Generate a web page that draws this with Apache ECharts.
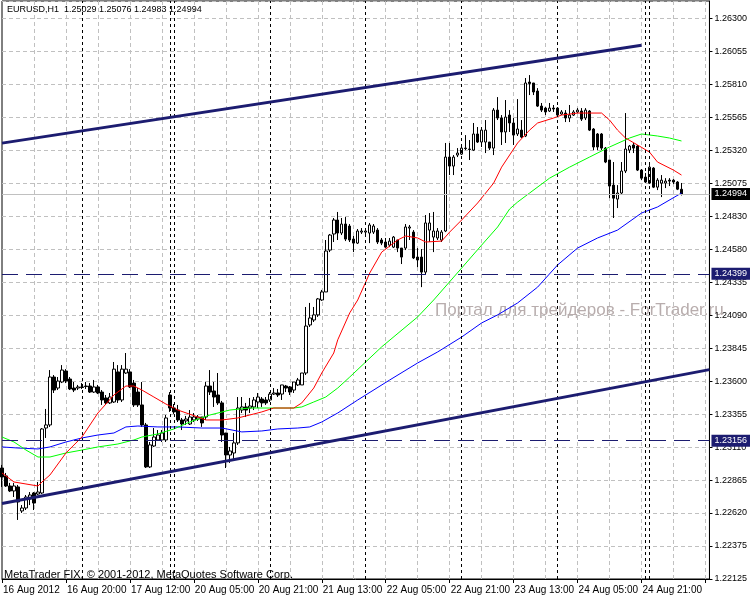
<!DOCTYPE html>
<html><head><meta charset="utf-8">
<script src="https://cdn.jsdelivr.net/npm/echarts@6/dist/echarts.min.js"></script>
<style>html,body{margin:0;padding:0;background:#fff}#c{width:750px;height:600px}</style>
</head><body><div id="c"></div>
<script>
// ---- data ----
const timeLabels = ['16 Aug 2012','16 Aug 20:00','17 Aug 12:00','20 Aug 05:00','20 Aug 21:00','21 Aug 13:00','22 Aug 05:00','22 Aug 21:00','23 Aug 13:00','24 Aug 05:00','24 Aug 21:00'];
const yTickLabels = ['1.22125','1.22375','1.22620','1.22865','1.23110','1.23355','1.23600','1.23845','1.24090','1.24335','1.24580','1.24830','1.25075','1.25320','1.25565','1.25810','1.26055','1.26300'];
const opens = [1.22952,1.22893,1.22818,1.22781,1.22811,1.22632,1.22654,1.22721,1.22766,1.22758,1.22766,1.23250,1.23273,1.23630,1.23548,1.23593,1.23675,1.23615,1.23548,1.23548,1.23556,1.23563,1.23563,1.23518,1.23556,1.23518,1.23474,1.23437,1.23444,1.23668,1.23459,1.23660,1.23668,1.23585,1.23518,1.23422,1.23273,1.22960,1.23116,1.23161,1.23161,1.23161,1.23496,1.23399,1.23384,1.23310,1.23303,1.23280,1.23310,1.23317,1.23332,1.23332,1.23563,1.23526,1.23496,1.23437,1.23213,1.23049,1.23064,1.23139,1.23384,1.23407,1.23399,1.23407,1.23444,1.23466,1.23459,1.23459,1.23503,1.23511,1.23503,1.23563,1.23556,1.23533,1.23571,1.23571,1.23660,1.24018,1.24055,1.24093,1.24204,1.24264,1.24576,1.24696,1.24800,1.24703,1.24770,1.24755,1.24658,1.24628,1.24710,1.24710,1.24703,1.24710,1.24725,1.24651,1.24636,1.24613,1.24598,1.24651,1.24591,1.24591,1.24740,1.24710,1.24524,1.24524,1.24412,1.24725,1.24673,1.24666,1.24651,1.24718,1.25269,1.25202,1.25284,1.25291,1.25336,1.25329,1.25321,1.25441,1.25381,1.25381,1.25381,1.25336,1.25619,1.25560,1.25456,1.25582,1.25523,1.25441,1.25470,1.25426,1.25828,1.25821,1.25761,1.25649,1.25634,1.25612,1.25634,1.25634,1.25590,1.25597,1.25560,1.25582,1.25605,1.25612,1.25560,1.25612,1.25478,1.25441,1.25441,1.25336,1.25247,1.25060,1.24956,1.25001,1.25165,1.25321,1.25359,1.25351,1.25172,1.25120,1.25075,1.25187,1.25045,1.25075,1.25075,1.25097,1.25097,1.25083,1.25029];
const closes = [1.22885,1.22818,1.22781,1.22818,1.22699,1.22654,1.22736,1.22751,1.22691,1.22773,1.23243,1.23273,1.23630,1.23533,1.23600,1.23682,1.23600,1.23541,1.23533,1.23556,1.23552,1.23559,1.23518,1.23556,1.23511,1.23459,1.23437,1.23481,1.23689,1.23459,1.23689,1.23689,1.23556,1.23422,1.23422,1.23273,1.22960,1.23124,1.23183,1.23198,1.23213,1.23325,1.23399,1.23370,1.23310,1.23280,1.23317,1.23332,1.23332,1.23332,1.23288,1.23563,1.23518,1.23481,1.23437,1.23198,1.23049,1.23079,1.23139,1.23399,1.23407,1.23384,1.23414,1.23459,1.23481,1.23437,1.23437,1.23503,1.23511,1.23496,1.23571,1.23548,1.23518,1.23593,1.23608,1.23660,1.24010,1.24070,1.24093,1.24212,1.24264,1.24569,1.24688,1.24800,1.24703,1.24770,1.24658,1.24651,1.24628,1.24718,1.24718,1.24718,1.24763,1.24755,1.24636,1.24628,1.24598,1.24643,1.24673,1.24591,1.24524,1.24748,1.24748,1.24517,1.24502,1.24412,1.24778,1.24778,1.24718,1.24718,1.24710,1.25269,1.25202,1.25269,1.25299,1.25336,1.25332,1.25325,1.25441,1.25381,1.25470,1.25470,1.25336,1.25619,1.25560,1.25456,1.25567,1.25523,1.25433,1.25478,1.25418,1.25821,1.25817,1.25754,1.25649,1.25619,1.25605,1.25634,1.25627,1.25582,1.25605,1.25560,1.25582,1.25605,1.25619,1.25552,1.25619,1.25470,1.25344,1.25344,1.25336,1.25232,1.25053,1.24963,1.25001,1.25165,1.25329,1.25351,1.25336,1.25172,1.25112,1.25083,1.25194,1.25045,1.25097,1.25097,1.25090,1.25090,1.25083,1.25030,1.24994];
const lows = [1.22811,1.22811,1.22773,1.22736,1.22565,1.22617,1.22639,1.22676,1.22639,1.22751,1.22758,1.23176,1.23258,1.23511,1.23533,1.23585,1.23585,1.23533,1.23518,1.23533,1.23541,1.23541,1.23511,1.23511,1.23503,1.23422,1.23422,1.23429,1.23437,1.23437,1.23444,1.23653,1.23548,1.23407,1.23407,1.23258,1.22952,1.22952,1.23109,1.23154,1.23146,1.23146,1.23370,1.23355,1.23295,1.23235,1.23273,1.23273,1.23295,1.23303,1.23258,1.23310,1.23496,1.23407,1.23422,1.23146,1.22952,1.22990,1.23012,1.23124,1.23362,1.23332,1.23362,1.23384,1.23399,1.23407,1.23422,1.23444,1.23496,1.23481,1.23459,1.23518,1.23496,1.23511,1.23563,1.23571,1.23645,1.24003,1.24040,1.24078,1.24197,1.24264,1.24561,1.24636,1.24651,1.24688,1.24643,1.24636,1.24561,1.24621,1.24696,1.24696,1.24628,1.24696,1.24621,1.24613,1.24591,1.24598,1.24591,1.24561,1.24472,1.24576,1.24651,1.24509,1.24449,1.24300,1.24397,1.24636,1.24561,1.24651,1.24636,1.24710,1.25135,1.25135,1.25269,1.25284,1.25321,1.25247,1.25314,1.25374,1.25344,1.25299,1.25321,1.25284,1.25545,1.25359,1.25374,1.25456,1.25359,1.25426,1.25411,1.25418,1.25731,1.25731,1.25642,1.25605,1.25582,1.25605,1.25605,1.25582,1.25582,1.25530,1.25530,1.25575,1.25597,1.25538,1.25545,1.25463,1.25321,1.25321,1.25321,1.25224,1.24963,1.24815,1.24889,1.24993,1.25150,1.25299,1.25299,1.25165,1.25097,1.25075,1.25068,1.25038,1.25023,1.24971,1.25038,1.25053,1.25068,1.25023,1.24983];
const highs = [1.22975,1.22915,1.22841,1.22841,1.22826,1.22676,1.22751,1.22773,1.22773,1.22848,1.23250,1.23392,1.23682,1.23645,1.23630,1.23719,1.23689,1.23630,1.23593,1.23571,1.23585,1.23593,1.23585,1.23608,1.23571,1.23533,1.23496,1.23511,1.23742,1.23719,1.23719,1.23809,1.23689,1.23608,1.23548,1.23593,1.23288,1.23146,1.23250,1.23235,1.23235,1.23347,1.23518,1.23429,1.23422,1.23325,1.23340,1.23384,1.23362,1.23347,1.23332,1.23593,1.23682,1.23593,1.23660,1.23452,1.23213,1.23109,1.23213,1.23481,1.23481,1.23437,1.23474,1.23481,1.23511,1.23481,1.23481,1.23518,1.23548,1.23541,1.23571,1.23571,1.23563,1.23593,1.23623,1.23660,1.24152,1.24182,1.24152,1.24219,1.24279,1.24651,1.24696,1.24815,1.24860,1.24815,1.24822,1.24770,1.24681,1.24733,1.24740,1.24733,1.24778,1.24770,1.24740,1.24666,1.24666,1.24666,1.24681,1.24651,1.24591,1.24770,1.24763,1.24725,1.24591,1.24584,1.24837,1.24852,1.24860,1.24740,1.24725,1.25374,1.25374,1.25284,1.25336,1.25344,1.25433,1.25396,1.25523,1.25493,1.25493,1.25545,1.25381,1.25634,1.25716,1.25582,1.25694,1.25619,1.25560,1.25701,1.25545,1.25858,1.25880,1.25821,1.25783,1.25672,1.25642,1.25672,1.25657,1.25642,1.25619,1.25619,1.25657,1.25619,1.25634,1.25634,1.25634,1.25619,1.25485,1.25448,1.25448,1.25344,1.25247,1.25232,1.25060,1.25232,1.25597,1.25359,1.25374,1.25359,1.25180,1.25150,1.25209,1.25194,1.25112,1.25135,1.25112,1.25112,1.25105,1.25090,1.25076];
const maRed = [[0,1.22915],[3,1.22848],[6,1.22833],[9,1.22818],[10,1.22848],[12,1.22900],[16,1.23064],[20,1.23183],[24,1.23362],[28,1.23496],[31,1.23563],[33,1.23563],[35,1.23533],[38,1.23481],[41,1.23429],[44,1.23384],[49,1.23332],[51,1.23310],[55,1.23310],[59,1.23325],[62,1.23347],[65,1.23370],[68,1.23399],[73,1.23399],[75,1.23437],[78,1.23548],[80,1.23660],[83,1.23809],[84,1.23907],[87,1.24108],[89,1.24204],[92,1.24405],[95,1.24561],[99,1.24651],[101,1.24681],[104,1.24666],[106,1.24636],[110,1.24643],[112,1.24710],[115,1.24800],[119,1.24927],[123,1.25075],[125,1.25194],[129,1.25374],[132,1.25470],[134,1.25523],[138,1.25560],[140,1.25582],[144,1.25597],[150,1.25597],[152,1.25545],[154,1.25470],[156,1.25411],[159,1.25359],[162,1.25306],[164,1.25232],[168,1.25172],[170,1.25135]];
const maGreen = [[0,1.23183],[3,1.23146],[6,1.23086],[9,1.23034],[12,1.23034],[16,1.23064],[20,1.23086],[24,1.23109],[29,1.23131],[33,1.23161],[35,1.23183],[39,1.23206],[43,1.23243],[47,1.23295],[52,1.23347],[57,1.23384],[62,1.23399],[67,1.23399],[73,1.23399],[75,1.23407],[78,1.23444],[81,1.23481],[84,1.23548],[87,1.23630],[95,1.23855],[104,1.24078],[108,1.24204],[115,1.24442],[120,1.24613],[124,1.24748],[127,1.24882],[129,1.24934],[132,1.25001],[137,1.25112],[142,1.25194],[147,1.25269],[152,1.25344],[157,1.25411],[160,1.25441],[164,1.25426],[167,1.25411],[170,1.25389]];
const maBlue = [[0,1.23109],[4,1.23101],[9,1.23094],[12,1.23109],[16,1.23146],[20,1.23176],[24,1.23198],[28,1.23213],[31,1.23258],[34,1.23265],[39,1.23258],[44,1.23258],[50,1.23250],[55,1.23250],[60,1.23221],[65,1.23228],[69,1.23243],[74,1.23250],[77,1.23258],[80,1.23295],[84,1.23362],[89,1.23459],[97,1.23608],[104,1.23735],[109,1.23817],[115,1.23928],[120,1.24033],[124,1.24093],[129,1.24182],[134,1.24300],[139,1.24465],[144,1.24591],[149,1.24666],[154,1.24725],[160,1.24852],[164,1.24897],[170,1.25001]];
const upperTrend = [[0,1.25373],[160,1.26103]];
const lowerTrend = [[0,1.22688],[177,1.23685]];
const hLevels = [1.24399,1.23156];
const bidPrice = 1.24994;
const separators = [20,42,43,67,91,115,139,161,162];
const headerText = 'EURUSD,H1  1.25029 1.25076 1.24983 1.24994';
const copyrightText = 'MetaTrader FIX, © 2001-2012, MetaQuotes Software Corp.';
const watermarkText = 'Портал для трейдеров - ForTrader.ru';
const nCats = 178;
const yMin = 1.22125, yMax = 1.26432, yStep = 0.0024585;

// ---- chart ----
const FONT = 'Liberation Sans';
const NAVY = '#1c1c70';
const cats = Array.from({length:nCats},(_,i)=>String(i));
const candles = opens.map((o,i)=>[o, closes[i], lows[i], highs[i]]);
const chart = echarts.init(document.getElementById('c'), null, {renderer:'canvas'});
const lvlLabel = (txt,bg)=>({show:true, position:'end', distance:2, formatter:txt, color:'#fff', backgroundColor:bg, padding:[2,3,1,3], fontSize:9, fontFamily:FONT});
chart.setOption({
  animation:false,
  backgroundColor:'#fff',
  grid:{left:2, right:39, top:1, bottom:21, show:true, borderColor:'#000', borderWidth:1, containLabel:false},
  xAxis:{type:'category', data:cats, boundaryGap:false,
    axisLine:{show:true, lineStyle:{color:'#000', width:1}},
    axisTick:{show:true, interval:(i)=>i%16===0, length:4, lineStyle:{color:'#000'}},
    axisLabel:{interval:(i)=>i%16===0, formatter:(v,i)=>timeLabels[Math.round(i/16)]||'', align:'left', margin:6, fontSize:10, fontFamily:FONT, color:'#000', padding:[0,0,0,1]},
    splitLine:{show:true, interval:(i)=>i%8===0 && i>0, lineStyle:{color:'#c0c0c0', type:[4,3], width:1}}
  },
  yAxis:{type:'value', position:'right', min:yMin, max:yMax, interval:yStep, scale:true,
    axisLine:{show:true, lineStyle:{color:'#000'}},
    axisTick:{show:true, length:3, lineStyle:{color:'#000'}},
    axisLabel:{showMaxLabel:false, margin:5, fontSize:9, fontFamily:FONT, color:'#000', padding:[0,0,3,0],
      formatter:(v)=>{const r=(v-yMin)/yStep, k=Math.round(r); return Math.abs(r-k)<0.05 ? (yTickLabels[k]||'') : '';}},
    splitLine:{show:true, lineStyle:{color:'#c0c0c0', type:[4,3], width:1}}
  },
  graphic:[
    {type:'text', left:435, top:302, z:0, style:{text:watermarkText, fill:'#b8adad', fontSize:17, fontFamily:FONT}},
    {type:'text', left:7, top:5, z:100, style:{text:headerText, fill:'#000', fontSize:9, fontFamily:FONT}},
    {type:'text', left:4, top:569, z:100, style:{text:copyrightText, fill:'#000', fontSize:11, fontFamily:FONT}}
  ],
  series:[
    {type:'candlestick', data:candles, barWidth:3, z:3,
      itemStyle:{color:'#fff', color0:'#000', borderColor:'#000', borderColor0:'#000', borderWidth:1}},
    {type:'line', data:maBlue, showSymbol:false, symbol:'none', z:4, lineStyle:{color:'#0000ff', width:1}},
    {type:'line', data:maGreen, showSymbol:false, symbol:'none', z:4, lineStyle:{color:'#00ff00', width:1}},
    {type:'line', data:maRed, showSymbol:false, symbol:'none', z:4, lineStyle:{color:'#ff0000', width:1}},
    {type:'line', data:[], z:5, markLine:{silent:true, symbol:'none', animation:false, precision:5,
      data:[
        ...separators.map(s=>({xAxis:s, lineStyle:{color:'#000', type:[3,3], width:1}, label:{show:false}})),
        {yAxis:bidPrice, lineStyle:{color:'#c0c0c0', type:'solid', width:1}, label:lvlLabel(bidPrice.toFixed(5),'#000')},
        ...hLevels.map(h=>({yAxis:h, lineStyle:{color:NAVY, type:[16,8], width:1}, label:lvlLabel(h.toFixed(5),NAVY)})),
        [{coord:upperTrend[0], label:{show:false}},{coord:upperTrend[1], label:{show:false}, lineStyle:{color:NAVY, width:3, type:'solid'}}],
        [{coord:lowerTrend[0], label:{show:false}},{coord:lowerTrend[1], label:{show:false}, lineStyle:{color:NAVY, width:3, type:'solid'}}]
      ]
    }}
  ]
});
</script></body></html>
